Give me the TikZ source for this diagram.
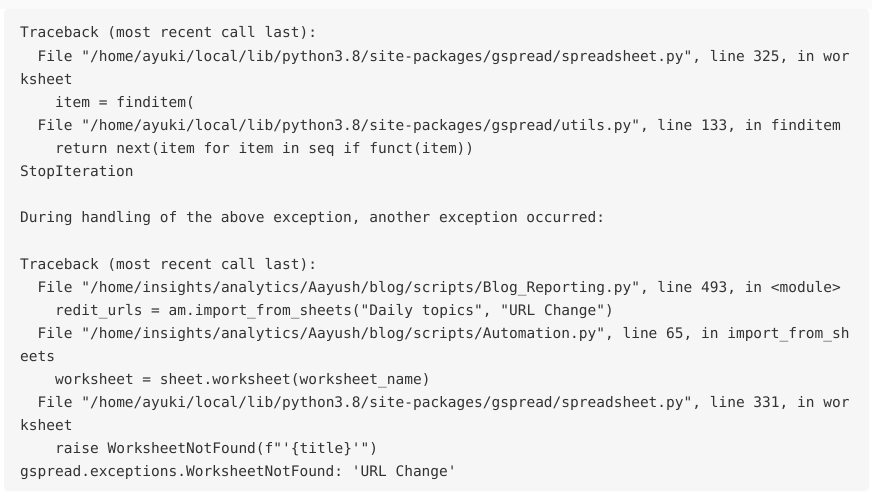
\documentclass[tikz,border=0pt]{standalone}
\usepackage{fontspec}
\setmonofont{DejaVu Sans Mono}
\definecolor{boxbg}{HTML}{F6F6F6}
\definecolor{topbg}{HTML}{FAFAFA}
\definecolor{codetext}{HTML}{333333}
\begin{document}
\begin{tikzpicture}[x=1pt,y=-1pt,
  codeline/.style={anchor=base west,inner sep=0pt,text=codetext,font=\ttfamily\fontsize{14.5pt}{17pt}\selectfont}]
\useasboundingbox (0,0) rectangle (872,500);
\fill[white] (0,0) rectangle (872,500);
\fill[topbg] (0,0) rectangle (872,9);
\fill[boxbg,rounded corners=4pt] (4,9) rectangle (869,491);
\def\cw{8.75}
\def\ls{23.1}
\node[codeline] (l1) at (20,38+0*\ls) {Traceback (most recent call last):};
\node[codeline] (l2) at (20+2*\cw,38+1*\ls) {File "/home/ayuki/local/lib/python3.8/site-packages/gspread/spreadsheet.py", line 325, in wor};
\node[codeline] (l3) at (20,38+2*\ls) {ksheet};
\node[codeline] (l4) at (20+4*\cw,38+3*\ls) {item = finditem(};
\node[codeline] (l5) at (20+2*\cw,38+4*\ls) {File "/home/ayuki/local/lib/python3.8/site-packages/gspread/utils.py", line 133, in finditem};
\node[codeline] (l6) at (20+4*\cw,38+5*\ls) {return next(item for item in seq if funct(item))};
\node[codeline] (l7) at (20,38+6*\ls) {StopIteration};
\node[codeline] (l9) at (20,38+8*\ls) {During handling of the above exception, another exception occurred:};
\node[codeline] (l11) at (20,38+10*\ls) {Traceback (most recent call last):};
\node[codeline] (l12) at (20+2*\cw,38+11*\ls) {File "/home/insights/analytics/Aayush/blog/scripts/Blog\_Reporting.py", line 493, in <module>};
\node[codeline] (l13) at (20+4*\cw,38+12*\ls) {redit\_urls = am.import\_from\_sheets("Daily topics", "URL Change")};
\node[codeline] (l14) at (20+2*\cw,38+13*\ls) {File "/home/insights/analytics/Aayush/blog/scripts/Automation.py", line 65, in import\_from\_sh};
\node[codeline] (l15) at (20,38+14*\ls) {eets};
\node[codeline] (l16) at (20+4*\cw,38+15*\ls) {worksheet = sheet.worksheet(worksheet\_name)};
\node[codeline] (l17) at (20+2*\cw,38+16*\ls) {File "/home/ayuki/local/lib/python3.8/site-packages/gspread/spreadsheet.py", line 331, in wor};
\node[codeline] (l18) at (20,38+17*\ls) {ksheet};
\node[codeline] (l19) at (20+4*\cw,38+18*\ls) {raise WorksheetNotFound(f"'\{title\}'")};
\node[codeline] (l20) at (20,38+19*\ls) {gspread.exceptions.WorksheetNotFound: 'URL Change'};
\end{tikzpicture}
\end{document}
